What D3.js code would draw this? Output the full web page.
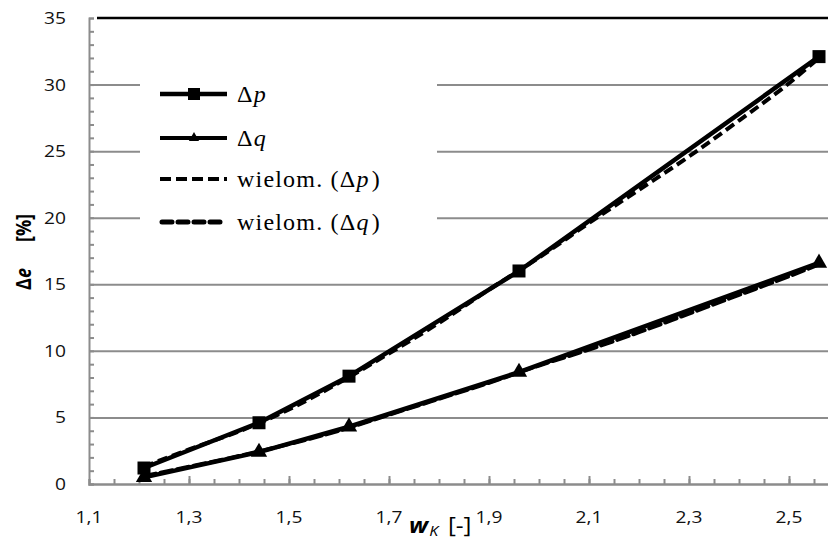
<!DOCTYPE html>
<html>
<head>
<meta charset="utf-8">
<script src="https://cdn.jsdelivr.net/npm/d3@7"></script>
</head>
<body style="margin:0;background:#fff">
<div id="wrapper"></div>
<script>
// measured points (x = w_K)
const wK = [1.21, 1.44, 1.62, 1.96, 2.56];
const deltaP = [1.2, 4.6, 8.1, 16.0, 32.1];
const deltaQ = [0.5, 2.4, 4.3, 8.4, 16.6];

// polynomial trend lines
const trendX = [1.21, 1.3, 1.4, 1.5, 1.6, 1.7, 1.8, 1.9, 2.0, 2.1, 2.2, 2.3, 2.4, 2.5, 2.56];
const trendP = [1.3, 2.6, 3.95, 5.6, 7.6, 9.8, 12.1, 14.6, 17.0, 19.6, 22.1, 24.6, 27.3, 30.1, 32.0];
const trendQ = [0.6, 1.3, 2.1, 3.0, 4.0, 5.2, 6.4, 7.6, 8.9, 10.1, 11.4, 12.8, 14.2, 15.6, 16.5];

const xTicks = [1.1, 1.3, 1.5, 1.7, 1.9, 2.1, 2.3, 2.5];
const yTicks = [0, 5, 10, 15, 20, 25, 30, 35];
// legend entries: [prefix, variable, suffix]
const legendLabels = [["", "p", ""], ["", "q", ""], ["wielom. (", "p", ")"], ["wielom. (", "q", ")"]];

const SANS = '"Open Sans", sans-serif';
const SERIF = '"Liberation Serif"';

function drawChart() {
  // Step 1: Dimensions
  let dimensions = {
    width: 828,
    height: 545,
    margin: { top: 18, bottom: 61, left: 89, right: 0 },
  };
  dimensions.boundedWidth = 750; // axis runs past the right edge (to 2.6)
  dimensions.boundedHeight =
    dimensions.height - dimensions.margin.top - dimensions.margin.bottom;

  // Step 2: Canvas
  const wrapper = d3
    .select("#wrapper")
    .append("svg")
    .attr("width", dimensions.width)
    .attr("height", dimensions.height);

  const bounds = wrapper
    .append("g")
    .attr("transform", `translate(${dimensions.margin.left},${dimensions.margin.top})`);

  // Step 3: Scales
  const xScale = d3.scaleLinear().domain([1.1, 2.6]).range([0, dimensions.boundedWidth]);
  const yScale = d3.scaleLinear().domain([0, 35]).range([dimensions.boundedHeight, 0]);
  const fmt = (d) => d3.format(".1f")(d).replace(".", ",");
  const stretch = "scale(1.2,1)";

  // Step 4: Grid and axes
  const grid = bounds
    .append("g")
    .call(d3.axisLeft(yScale).tickValues(yTicks.filter((d) => d > 0 && d < 35)).tickSize(-dimensions.boundedWidth).tickFormat(""));
  grid.select(".domain").remove();
  grid.selectAll("line").attr("stroke", "#8c8c8c").attr("stroke-width", 2);

  bounds
    .append("line")
    .attr("x1", 8)
    .attr("x2", dimensions.boundedWidth)
    .attr("y1", yScale(35))
    .attr("y2", yScale(35))
    .attr("stroke", "#000")
    .attr("stroke-width", 2.5);

  const yMinor = bounds
    .append("g")
    .call(d3.axisLeft(yScale).tickValues(d3.range(0, 36, 1)).tickSize(-5).tickFormat(""));
  yMinor.selectAll("line").attr("stroke", "#8c8c8c").attr("stroke-width", 2);
  yMinor.select(".domain").attr("stroke", "#8c8c8c").attr("stroke-width", 2);

  const xMinor = bounds
    .append("g")
    .attr("transform", `translate(0,${dimensions.boundedHeight})`)
    .call(d3.axisBottom(xScale).tickValues(d3.range(1.15, 2.6, 0.05)).tickSize(-5).tickFormat(""));
  xMinor.selectAll("line").attr("stroke", "#8c8c8c").attr("stroke-width", 2);
  xMinor.select(".domain").attr("stroke", "#8c8c8c").attr("stroke-width", 2.5);

  const xMajor = bounds
    .append("g")
    .attr("transform", `translate(0,${dimensions.boundedHeight})`)
    .call(d3.axisBottom(xScale).tickValues(xTicks.slice(1)).tickSize(-8).tickFormat(""));
  xMajor.select(".domain").remove();
  xMajor.selectAll("line").attr("stroke", "#8c8c8c").attr("stroke-width", 2);

  // tick labels
  bounds
    .selectAll(".y-label")
    .data(yTicks)
    .join("text")
    .attr("class", "y-label")
    .style("font-family", SANS)
    .style("font-size", "16px")
    .attr("fill", "#111")
    .attr("text-anchor", "end")
    .attr("transform", (d) => `translate(-23,${yScale(d) + 6}) ${stretch}`)
    .text((d) => d);

  bounds
    .selectAll(".x-label")
    .data(xTicks)
    .join("text")
    .attr("class", "x-label")
    .style("font-family", SANS)
    .style("font-size", "16px")
    .attr("fill", "#111")
    .attr("text-anchor", "middle")
    .attr("transform", (d) => `translate(${xScale(d)},${dimensions.boundedHeight + 39}) ${stretch}`)
    .text(fmt);

  // Step 5: Legend box (covers grid)
  bounds
    .append("rect")
    .attr("x", 140 - dimensions.margin.left)
    .attr("y", 60 - dimensions.margin.top)
    .attr("width", 297)
    .attr("height", 180)
    .attr("fill", "#fff");

  // Step 6: Data
  const pts = (ys) => wK.map((x, i) => [x, ys[i]]);
  const line = d3.line().x((d) => xScale(d[0])).y((d) => yScale(d[1]));
  const curve = d3.line().x((d) => xScale(d[0])).y((d) => yScale(d[1])).curve(d3.curveMonotoneX);
  const tri = d3.symbol().type(d3.symbolTriangle);

  [deltaP, deltaQ].forEach((ys) => {
    bounds
      .append("path")
      .attr("d", line(pts(ys)))
      .attr("fill", "none")
      .attr("stroke", "#000")
      .attr("stroke-width", 4.5)
      .attr("stroke-linejoin", "round");
  });

  [trendP, trendQ].forEach((ys, k) => {
    bounds
      .append("path")
      .attr("d", curve(trendX.map((x, i) => [x, ys[i]])))
      .attr("fill", "none")
      .attr("stroke", "#000")
      .attr("stroke-width", 4)
      .attr("stroke-dasharray", k == 0 ? "10,5" : "12,5")
      .attr("stroke-linecap", k == 0 ? "butt" : "round");
  });

  bounds
    .selectAll(".sq")
    .data(pts(deltaP))
    .join("rect")
    .attr("class", "sq")
    .attr("x", (d) => xScale(d[0]) - 6.5)
    .attr("y", (d) => yScale(d[1]) - 6.5)
    .attr("width", 13)
    .attr("height", 13)
    .attr("fill", "#000");

  bounds
    .selectAll(".tri")
    .data(pts(deltaQ))
    .join("path")
    .attr("class", "tri")
    .attr("d", tri.size(115))
    .attr("transform", (d) => `translate(${xScale(d[0])},${yScale(d[1])})`)
    .attr("fill", "#000");

  // Step 7: Legend (each text piece is its own element, placed one after another)
  const legend = wrapper.append("g");
  const rowsY = [94, 138, 179, 222];
  rowsY.forEach((y, i) => {
    const g = legend.append("g").attr("transform", `translate(0,${y})`);
    g.append("line")
      .attr("x1", i == 3 ? 162 : 160)
      .attr("x2", i == 3 ? 225 : 227)
      .attr("stroke", "#000")
      .attr("stroke-width", i == 0 ? 4.5 : i == 1 ? 4 : i == 2 ? 4 : 5)
      .attr("stroke-dasharray", i < 2 ? null : i == 2 ? "11,5" : "10,6")
      .attr("stroke-linecap", i == 3 ? "round" : "butt");
    if (i == 0) {
      g.append("rect").attr("x", 188).attr("y", -6).attr("width", 12).attr("height", 12).attr("fill", "#000");
    } else if (i == 1) {
      g.append("path").attr("d", tri.size(45)).attr("transform", "translate(194,0)").attr("fill", "#000");
    }
    const [pre, v, post] = legendLabels[i];
    let x = 237;
    [[pre + "Δ", "normal"], [v, "italic"], [post, "normal"]].forEach(([s, fs]) => {
      if (!s) return;
      const t = g
        .append("text")
        .attr("x", x)
        .attr("y", 8)
        .attr("fill", "#000")
        .style("font-family", SERIF)
        .style("font-size", "24px")
        .style("font-style", fs)
        .style("letter-spacing", "1.2px")
        .text(s);
      x += t.node().getComputedTextLength() + (fs == "italic" ? 2 : 0);
    });
  });

  // Step 8: Axis titles
  const xTitle = wrapper
    .append("text")
    .style("font-family", SANS)
    .style("font-size", "21px")
    .attr("transform", `translate(409,533) scale(1.15,1)`);
  xTitle.append("tspan").style("font-weight", "bold").style("font-style", "italic").text("w");
  xTitle.append("tspan").style("font-style", "italic").style("font-size", "14px").attr("dx", 1).attr("dy", 3).text("K");
  xTitle.append("tspan").attr("dx", 3).attr("dy", -3).text(" [-]");

  // Δe and [%] sit apart along the axis
  wrapper
    .append("text")
    .style("font-family", SANS)
    .style("font-size", "18px")
    .style("font-weight", "bold")
    .attr("text-anchor", "middle")
    .attr("transform", "translate(31,279) rotate(-90) scale(1,1.2)")
    .call((t) => {
      t.append("tspan").text("Δ");
      t.append("tspan").style("font-style", "italic").text("e");
    });

  wrapper
    .append("text")
    .style("font-family", SANS)
    .style("font-size", "18px")
    .style("font-weight", "bold")
    .attr("text-anchor", "middle")
    .attr("transform", "translate(31,228) rotate(-90) scale(1,1.2)")
    .text("[%]");
}

drawChart();
</script>
</body>
</html>
